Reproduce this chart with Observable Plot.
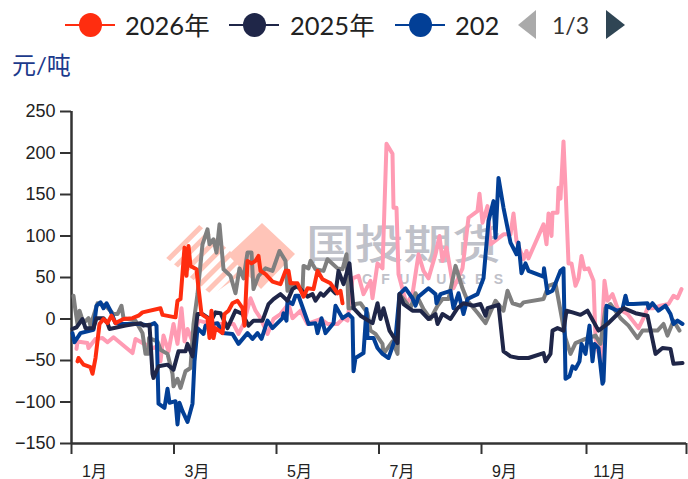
<!DOCTYPE html>
<html><head><meta charset="utf-8">
<script src="https://cdn.jsdelivr.net/npm/d3@7"></script>
<script src="https://cdn.jsdelivr.net/npm/@observablehq/plot@0.6"></script>
<style>
html,body{margin:0;padding:0;background:#fff;overflow:hidden}
#page{position:relative;width:688px;height:479px;font-family:"Lato","Noto Sans CJK SC",sans-serif}
#legend{position:relative;height:85px}
#legend .t{position:absolute;top:8px;font-size:25.5px;line-height:34px;color:#222;white-space:nowrap}
#legend .l{position:absolute;top:24px;width:50px;height:2px}
#legend .d{position:absolute;top:13px;width:23px;height:24px;border-radius:50%}
#legend svg{position:absolute;left:0;top:0}
#unit{position:absolute;left:12px;top:50px;font-size:24px;line-height:30px;color:#1c3a8c}
#mark{position:absolute;left:0;top:0}
#chart{position:relative}
</style></head><body>
<div id="page">
<svg id="mark" width="688" height="479">
<defs><pattern id="h" width="10" height="10" patternUnits="userSpaceOnUse" patternTransform="rotate(-45)"><rect width="10" height="5" fill="#ffc4b8"/></pattern></defs>
<polygon points="165,257 198,224 250,268 212,295" fill="url(#h)"/>
<polygon points="262,223 295,254 261,289 228,255" fill="#ffc4b8"/>
<text transform="translate(306,259) scale(1.19,1)" font-size="41" font-family="Noto Sans CJK SC" font-weight="500" fill="#bfc1c9">国投期货</text>
<text x="362" y="284" font-size="14" font-family="Liberation Sans" font-weight="700" fill="#bfc1c9" textLength="141">CFUTURES</text>
</svg>
<div id="legend"></div>
<div id="unit">元/吨</div>
<div id="chart"></div>
</div>
<script>
const legendNames=["2026年","2025年","202"];
const colors=["#ff2d0f","#1f2648","#023f96","#7f7f7f","#ff9bb3"];
const yTicks=[-150,-100,-50,0,50,100,150,200,250];
const xTicks=[0,41,82,123,164,206,246];
const monthLabels=["1月","3月","5月","7月","9月","11月",""];

const x2026=[2.4,2.8,4.8,7.6,8.4,9.6,11.2,12.8,14.4,16,17.6,20.8,24.4,26.8,28.4,35.6,36.4,41.6,42.4,43.6,45.2,46,46.8,47.6,50,50.8,52,54.4,55.2,56,56.8,57.6,60.4,61.2,62.8,64.4,66.4,68.4,69.2,70.4,72,73.6,74.8,75.6,77.6,80.4,83.6,85.6,86.8,87.6,90.4,92.8,94.4,96.8,98.4,100.4,103.6,106.4,107.6,108.4];
const y2026=[-51,-47,-55,-58,-66,-47,-6,0,-5,4,-5,0,1,4,8,13,5,2,22,24,86,52,88,64,60,37,6,1,-23,10,-23,-11,-17,6,10,19,22,13,-8,70,67,70,76,58,54,45,42,58,58,43,43,27,37,36,58,48,43,31,34,19];

const x2025=[0.4,2,4.4,5.6,8.8,10,12.8,14.4,15.2,21.6,27.6,28.8,31.2,32.4,32.8,34.8,38.4,40.8,42.8,45.6,46.4,48.4,50.4,52.4,54.8,56.4,57.6,59.6,62.4,65.6,68.4,70.8,72.8,76.4,78.8,80.8,83.6,86.4,88.4,90.4,94.4,96.4,97.6,99.6,100.8,103.6,105.6,106.8,108.8,111.2,112.8,115.6,120.4,122.4,123.6,124.8,127.2,130.4,131.2,132.8,136.4,139.6,142.8,145.6,146.4,148.4,151.6,154.4,156.8,160.8,163.6,165.6,166.4,170.8,172.8,175.6,178.8,182.8,188.8,189.6,191.6,192.4,194.4,196.8,198,200.4,203.6,206.4,210.8,214.4,220.8,225.6,230.4,233.6,236.4,239.6,240.8,244.4];
const y2025=[-12,-10,0,-11,-11,1,1,-5,-12,-8,-5,-8,-7,-66,-71,-57,-55,-61,-39,-39,-30,-45,6,6,1,1,8,7,-11,10,6,-8,-2,-2,18,24,30,22,36,40,27,30,22,31,28,37,31,58,42,67,13,4,-5,19,0,13,-14,-29,30,18,10,10,0,6,-6,6,0,13,19,16,18,4,13,17,-39,-45,-47,-47,-41,-51,-42,-14,-11,-14,10,8,5,10,-14,-6,13,7,4,-42,-35,-36,-54,-53];

const x2024=[0.4,1.2,3.6,8.8,10,11.6,12.8,14,15.6,17.6,19.6,24.4,27.6,30.8,33.2,34,34.8,37.2,38.4,39.2,41.6,42.4,43.2,44.4,46.4,48.4,49.2,50.4,52.8,53.6,58.4,60.4,64.4,66.8,70.4,72.4,74.4,76,78.4,80.4,84.4,84.8,86,86.4,88.4,89.6,90.8,94.8,97.6,98.4,100,101.6,104.8,105.6,108.4,110.8,112.4,112.8,113.6,116.8,118,118.4,120.8,122.4,124.4,126.8,129.6,131.2,133.6,136.4,137.6,138.8,142.8,145.6,146,147.6,151.6,152.8,154.8,156.8,158.4,162.4,164.8,166.8,168.8,169.6,170.8,172.8,175.6,178,178.8,180,181.6,182.8,188.8,189,190.4,192.4,194.4,195.6,196.8,197.6,199.2,200.4,201.6,203.2,204,205.6,207.2,208.4,209.2,210.8,212.4,212.8,214,218.4,220.4,221.6,222.4,224.8,230.4,230.8,232.4,234.8,237.6,239.6,240.8,242.4,244.4];
const y2024=[-17,-28,-17,-13,16,20,13,19,10,-5,-6,-6,-6,-8,-5,-8,-102,-107,-84,-101,-99,-127,-101,-111,-124,-102,-51,-11,-18,-8,-5,-17,-18,-30,-17,-24,-17,-24,-2,-11,1,7,-2,22,18,28,28,-6,-5,-17,1,-17,-5,16,1,6,1,-63,-47,-41,12,-23,-23,-35,-42,-47,-23,30,37,25,16,27,37,30,19,30,34,13,31,6,24,30,49,118,142,98,170,134,92,78,92,55,67,58,51,61,31,34,49,58,61,-72,-69,-57,-60,-51,-30,-42,-8,-51,-30,-35,-78,-75,16,10,12,28,18,18,19,13,19,10,16,6,-6,-2,-6];

const x2023=[0.8,1.6,2.4,3.2,4.8,6.8,7.6,10.4,13.6,16.8,18.4,20,20.8,25.6,28.4,29.6,30.8,31,34.4,35.6,38.4,40.4,40.8,42.4,43.6,45.6,47.6,48.8,50.4,52.4,54.4,55.2,56.8,58,59.2,60.8,63.6,65.6,67.2,68.8,70.4,72,72.8,74.8,77.6,80.4,83.2,85.6,86.4,88.4,92.4,92.8,94.8,95.6,97.6,100.8,102.4,106.4,108.4,110,110.8,112.4,113.6,115.6,118.4,119.6,121.6,124.4,124.8,128.4,130.4,131.2,135.6,137.6,140.8,143.6,146.4,148.4,150.8,153.6,156.4,158.4,162.8,165.6,169.6,172.8,174.4,176.4,179.6,180.8,188.8,190.8,193.6,197.6,199.6,201.6,205.6,209.6,211.6,213.6,215.6,219.6,222.8,226.4,228.4,234.4,236.8,238.4,240.8,243.2];
const y2023=[28,10,-6,10,-5,1,-8,19,16,6,6,16,1,-2,-17,-42,-42,-23,-27,-37,-42,-66,-81,-72,-83,-63,-59,-6,30,90,108,90,96,80,114,60,52,31,61,49,80,80,36,52,61,58,82,70,34,43,34,64,61,70,60,58,72,61,60,78,13,13,18,19,7,-14,-18,-30,-42,-27,-42,30,13,31,12,0,16,24,24,64,37,22,6,-5,22,10,34,19,16,20,24,40,43,-23,-42,-29,-24,-20,-30,13,18,1,-8,-23,-14,-14,-6,-20,-2,-14];

const x2022=[2,2.4,6.4,6.8,9.6,12.4,14.4,16.8,24.4,25.6,28.4,32.8,34,35.6,36.8,38.8,40.8,42.4,44,45.2,46.4,48.4,50.8,54.8,59.6,64.8,66.8,68.8,71.6,73.6,75.6,78.4,80.8,83.6,86.8,88.4,91.6,94.4,99.6,102.4,106.4,108.8,110.4,112.4,114.8,116.8,119.6,120.4,122.4,124.4,126,128.4,128.8,130,130.8,134,136.4,138.8,140.8,142.8,145.6,147.2,148.4,150,152.8,156.4,158.8,162.4,163.2,164.4,166.4,167.6,172.8,175.6,176.8,178,180.8,182,182.8,188.8,190,190.8,192,192.4,194.4,194.8,195.6,196.8,197.6,198.8,200,201.6,202.8,204,205.2,206.8,208.8,209.6,211.6,213.2,214.4,216.4,218.4,222.4,226.8,228.8,230.4,232.8,235.6,238.8,240.8,242.4,244];
const y2022=[-36,-27,-29,-35,-24,-23,-28,-22,-41,-24,-29,-35,-33,-51,-20,-39,-6,-30,13,-27,-12,-27,-2,-5,-6,-6,-18,-6,25,10,1,-18,0,6,18,1,10,-6,0,-6,-6,1,-2,49,52,30,46,25,67,61,211,199,134,134,54,18,30,78,58,49,78,100,70,86,37,61,122,130,151,116,136,90,102,102,127,94,72,82,73,114,90,127,100,128,128,158,145,214,158,67,67,40,49,76,60,61,46,-23,-51,46,22,30,13,6,-11,1,13,13,16,18,28,25,36];

function rows(xs,ys,s){return xs.map((x,i)=>({x,y:ys[i],s}));}
// drawn from the back (oldest) to the front (newest)
const marks=[
  [x2022,y2022,4],[x2023,y2023,3],[x2024,y2024,2],[x2025,y2025,1],[x2026,y2026,0]
].map(([a,b,c])=>Plot.line(rows(a,b,c),{x:"x",y:"y",stroke:colors[c],strokeWidth:4,curve:"linear",strokeLinejoin:"round"}));

const plot=Plot.plot({
  width:688,height:394,marginTop:26,marginBottom:36,marginLeft:71,marginRight:2,
  style:{background:"transparent",fontFamily:"'Liberation Sans','Noto Sans CJK SC',sans-serif",fontSize:"18px",color:"#222",overflow:"visible"},
  x:{domain:[0,246],label:null},
  y:{domain:[-150,250],label:null},
  marks:[
    Plot.axisY({ticks:yTicks,tickSize:11,tickPadding:5,stroke:"#333",strokeWidth:2,label:null,tickFormat:d=>d<0?"−"+(-d):d}),
    Plot.axisX({ticks:xTicks,tickSize:11,tickPadding:6,stroke:"#333",strokeWidth:2,label:null,tickFormat:()=>null}),
    Plot.text(xTicks,{x:d=>d,frameAnchor:"bottom",dy:33,dx:23,text:(d,i)=>monthLabels[i],fontSize:16,fill:"#222"}),
    Plot.ruleY([-150],{stroke:"#333",strokeWidth:2.5}),
    Plot.ruleX([0],{stroke:"#333",strokeWidth:2.5}),
    ...marks
  ]
});
document.getElementById("chart").append(plot);

const lg=document.getElementById("legend");
const lx=[65,229,395],tx=[125,290,455];
legendNames.forEach((n,i)=>{
  lg.insertAdjacentHTML("beforeend",`<div class="l" style="left:${lx[i]}px;background:${colors[i]}"></div><div class="d" style="left:${lx[i]+14}px;background:${colors[i]}"></div><div class="t" style="left:${tx[i]}px">${n}</div>`);
});
lg.insertAdjacentHTML("beforeend",`<svg width="688" height="60"><polygon points="536,10 536,39 518,25" fill="#aaa"/><polygon points="606,10 606,39 625,25" fill="#2f4554"/></svg><div class="t" style="left:552px;font-size:23px;color:#333">1/3</div>`);
</script>
</body></html>
